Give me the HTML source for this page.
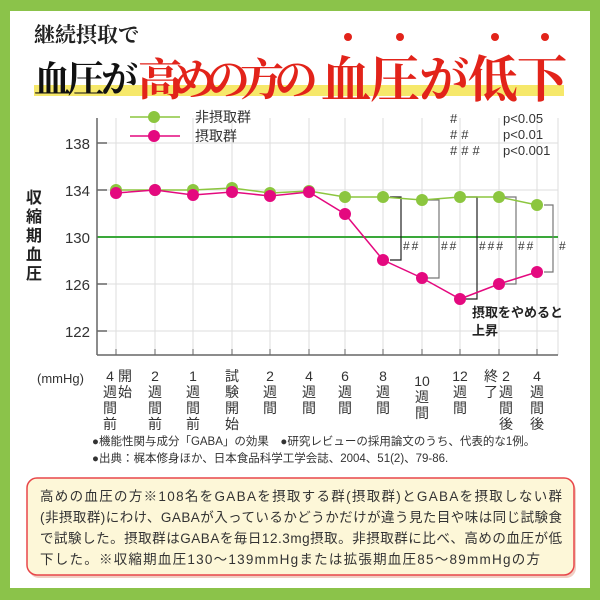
<!DOCTYPE html>
<html><head><meta charset="utf-8"><style>
html,body{margin:0;padding:0;width:600px;height:600px;overflow:hidden;background:#8bc34a}
svg{display:block}
text{font-family:"Liberation Sans","Noto Sans CJK JP",sans-serif}
.sf{font-family:"Liberation Serif","Noto Serif CJK SC",serif}
</style></head><body>
<svg width="600" height="600" viewBox="0 0 600 600" xmlns="http://www.w3.org/2000/svg">
<rect x="0" y="0" width="600" height="600" fill="#8bc34a"/>
<rect x="10" y="11" width="580" height="577" fill="#fff"/>
<!-- title -->
<rect x="34" y="85" width="530" height="11" fill="#f6e86a"/>
<text class="sf" x="34" y="42" font-size="21" font-weight="bold" fill="#222">継続摂取で</text>
<text class="sf" x="34" y="92" font-size="37" font-weight="bold" fill="#111" textLength="104">血圧が</text>
<text class="sf" x="138" y="95" font-size="44" font-weight="bold" fill="#e2231a" textLength="180">高めの方の</text>
<text class="sf" x="321" y="97" font-size="50" font-weight="bold" fill="#e2231a" textLength="246">血圧が低下</text>
<g fill="#e2231a"><circle cx="348" cy="37" r="4"/><circle cx="400" cy="37" r="4"/><circle cx="495" cy="37" r="4"/><circle cx="545" cy="37" r="4"/></g>

<!-- grid -->
<g stroke="#ddd" stroke-width="1">
<line x1="97" y1="143" x2="558" y2="143"/><line x1="97" y1="190" x2="558" y2="190"/>
<line x1="97" y1="284" x2="558" y2="284"/><line x1="97" y1="331" x2="558" y2="331"/>
<line x1="116" y1="118" x2="116" y2="355"/><line x1="155" y1="118" x2="155" y2="355"/>
<line x1="193" y1="118" x2="193" y2="355"/><line x1="232" y1="118" x2="232" y2="355"/>
<line x1="270" y1="118" x2="270" y2="355"/><line x1="309" y1="118" x2="309" y2="355"/>
<line x1="345" y1="118" x2="345" y2="355"/><line x1="383" y1="118" x2="383" y2="355"/>
<line x1="422" y1="118" x2="422" y2="355"/><line x1="460" y1="118" x2="460" y2="355"/>
<line x1="499" y1="118" x2="499" y2="355"/><line x1="537" y1="118" x2="537" y2="355"/>
<line x1="558" y1="118" x2="558" y2="355"/>
</g>
<line x1="97" y1="237" x2="558" y2="237" stroke="#3aa83a" stroke-width="2"/>
<g stroke="#666" stroke-width="1.5">
<line x1="97" y1="118" x2="97" y2="355"/><line x1="97" y1="355" x2="558" y2="355"/>
<line x1="97" y1="143" x2="107" y2="143"/><line x1="97" y1="190" x2="107" y2="190"/>
<line x1="97" y1="284" x2="107" y2="284"/><line x1="97" y1="331" x2="107" y2="331"/>
</g>
<g stroke="#666" stroke-width="1">
<line x1="116" y1="349" x2="116" y2="355"/><line x1="155" y1="349" x2="155" y2="355"/><line x1="193" y1="349" x2="193" y2="355"/><line x1="232" y1="349" x2="232" y2="355"/><line x1="270" y1="349" x2="270" y2="355"/><line x1="309" y1="349" x2="309" y2="355"/><line x1="345" y1="349" x2="345" y2="355"/><line x1="383" y1="349" x2="383" y2="355"/><line x1="422" y1="349" x2="422" y2="355"/><line x1="460" y1="349" x2="460" y2="355"/><line x1="499" y1="349" x2="499" y2="355"/><line x1="537" y1="349" x2="537" y2="355"/>
</g>
<g font-size="15" fill="#333" text-anchor="end">
<text x="90" y="149">138</text><text x="90" y="196">134</text><text x="90" y="243">130</text><text x="90" y="290">126</text><text x="90" y="337">122</text>
</g>
<g font-size="16" font-weight="bold" fill="#222" text-anchor="middle">
<text x="34" y="203">収</text><text x="34" y="222">縮</text><text x="34" y="241">期</text><text x="34" y="260">血</text><text x="34" y="279">圧</text>
</g>
<!-- brackets -->
<g fill="none" stroke-width="1.2">
<path d="M390 197 H401 V260 H390" stroke="#222"/>
<path d="M428 200 H439 V278 H428" stroke="#777"/>
<path d="M466 197 H477 V299 H466" stroke="#222"/>
<path d="M505 197 H516 V284 H505" stroke="#777"/>
<path d="M544 205 H553 V272 H544" stroke="#777"/>
</g>
<g font-size="12" fill="#333" letter-spacing="2">
<text x="403" y="250">##</text><text x="441" y="250">##</text><text x="479" y="250">###</text><text x="518" y="250">##</text><text x="559" y="250">#</text>
</g>
<!-- series -->
<polyline fill="none" stroke="#8cc63f" stroke-width="1.5" points="116,190 155,190 193,190 232,188 270,193 309,191 345,197 383,197 422,200 460,197 499,197 537,205"/>
<g fill="#8cc63f"><circle cx="116" cy="190" r="6"/><circle cx="155" cy="190" r="6"/><circle cx="193" cy="190" r="6"/><circle cx="232" cy="188" r="6"/><circle cx="270" cy="193" r="6"/><circle cx="309" cy="191" r="6"/><circle cx="345" cy="197" r="6"/><circle cx="383" cy="197" r="6"/><circle cx="422" cy="200" r="6"/><circle cx="460" cy="197" r="6"/><circle cx="499" cy="197" r="6"/><circle cx="537" cy="205" r="6"/></g>
<polyline fill="none" stroke="#e4097f" stroke-width="1.5" points="116,193 155,190 193,195 232,192 270,196 309,192 345,214 383,260 422,278 460,299 499,284 537,272"/>
<g fill="#e4097f"><circle cx="116" cy="193" r="6"/><circle cx="155" cy="190" r="6"/><circle cx="193" cy="195" r="6"/><circle cx="232" cy="192" r="6"/><circle cx="270" cy="196" r="6"/><circle cx="309" cy="192" r="6"/><circle cx="345" cy="214" r="6"/><circle cx="383" cy="260" r="6"/><circle cx="422" cy="278" r="6"/><circle cx="460" cy="299" r="6"/><circle cx="499" cy="284" r="6"/><circle cx="537" cy="272" r="6"/></g>
<!-- legend -->
<line x1="130" y1="117" x2="180" y2="117" stroke="#8cc63f" stroke-width="1.5"/><circle cx="154" cy="117" r="6" fill="#8cc63f"/>
<line x1="130" y1="136" x2="180" y2="136" stroke="#e4097f" stroke-width="1.5"/><circle cx="154" cy="136" r="6" fill="#e4097f"/>
<g font-size="14" fill="#333"><text x="195" y="122">非摂取群</text><text x="195" y="141">摂取群</text></g>
<g font-size="13" fill="#333">
<g letter-spacing="4"><text x="450" y="123">#</text><text x="450" y="139">##</text><text x="450" y="155">###</text></g>
<text x="503" y="123">p&lt;0.05</text><text x="503" y="139">p&lt;0.01</text><text x="503" y="155">p&lt;0.001</text>
</g>
<g font-size="13" font-weight="bold" fill="#222"><text x="472" y="317">摂取をやめると</text><text x="472" y="335">上昇</text></g>
<!-- x labels -->
<text x="37" y="383" font-size="13" fill="#333">(mmHg)</text>
<g font-size="14" fill="#333" text-anchor="middle">
<text x="110" y="381">4</text><text x="110" y="397">週</text><text x="110" y="413">間</text><text x="110" y="429">前</text>
<text x="125" y="381">開</text><text x="125" y="397">始</text>
<text x="155" y="381">2</text><text x="155" y="397">週</text><text x="155" y="413">間</text><text x="155" y="429">前</text>
<text x="193" y="381">1</text><text x="193" y="397">週</text><text x="193" y="413">間</text><text x="193" y="429">前</text>
<text x="232" y="381">試</text><text x="232" y="397">験</text><text x="232" y="413">開</text><text x="232" y="429">始</text>
<text x="270" y="381">2</text><text x="270" y="397">週</text><text x="270" y="413">間</text>
<text x="309" y="381">4</text><text x="309" y="397">週</text><text x="309" y="413">間</text>
<text x="345" y="381">6</text><text x="345" y="397">週</text><text x="345" y="413">間</text>
<text x="383" y="381">8</text><text x="383" y="397">週</text><text x="383" y="413">間</text>
<text x="422" y="386">10</text><text x="422" y="402">週</text><text x="422" y="418">間</text>
<text x="460" y="381">12</text><text x="460" y="397">週</text><text x="460" y="413">間</text>
<text x="491" y="381">終</text><text x="491" y="397">了</text>
<text x="506" y="381">2</text><text x="506" y="397">週</text><text x="506" y="413">間</text><text x="506" y="429">後</text>
<text x="537" y="381">4</text><text x="537" y="397">週</text><text x="537" y="413">間</text><text x="537" y="429">後</text>
</g>
<g font-size="11.5" fill="#333">
<text x="92" y="445">●機能性関与成分「GABA」の効果　●研究レビューの採用論文のうち、代表的な1例。</text>
<text x="92" y="462">●出典：梶本修身ほか、日本食品科学工学会誌、2004、51(2)、79-86.</text>
</g>
<!-- box -->
<rect x="29" y="481" width="547" height="97" rx="10" fill="#f0cfc4"/>
<rect x="27" y="478" width="547" height="97" rx="10" fill="#fdf7d8" stroke="#e8474a" stroke-width="1.5"/>
<g font-size="13.5" fill="#333">
<text x="40" y="501" textLength="522">高めの血圧の方※108名をGABAを摂取する群(摂取群)とGABAを摂取しない群</text>
<text x="40" y="522" textLength="522">(非摂取群)にわけ、GABAが入っているかどうかだけが違う見た目や味は同じ試験食</text>
<text x="40" y="543" textLength="522">で試験した。摂取群はGABAを毎日12.3mg摂取。非摂取群に比べ、高めの血圧が低</text>
<text x="40" y="564" textLength="500">下した。※収縮期血圧130～139mmHgまたは拡張期血圧85～89mmHgの方</text>
</g>
</svg>
</body></html>
